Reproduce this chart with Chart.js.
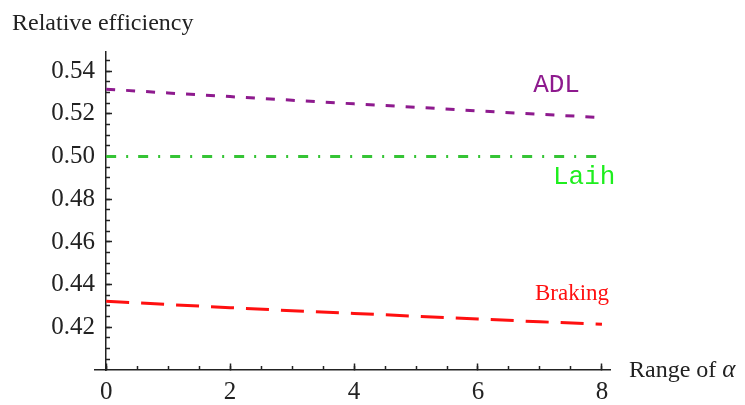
<!DOCTYPE html>
<html>
<head>
<meta charset="utf-8">
<script src="https://cdn.jsdelivr.net/npm/chart.js@4.4.1/dist/chart.umd.min.js"></script>
<style>
  html, body { margin: 0; padding: 0; background: #fff; }
  #wrap { width: 745px; height: 405px; position: relative; }
</style>
</head>
<body>
<div id="wrap"><canvas id="chart"></canvas></div>
<script>
// values
const alphaValues = [0, 1, 2, 3, 4, 5, 6, 7, 8];
const adlValues = [0.5316, 0.5298, 0.5281, 0.5264, 0.5247, 0.5231, 0.5214, 0.5198, 0.5183];
const laihValues = [0.500, 0.500, 0.500, 0.500, 0.500, 0.500, 0.500, 0.500, 0.500];
const brakingValues = [0.4322, 0.4307, 0.4292, 0.4278, 0.4265, 0.4252, 0.4239, 0.4226, 0.4214];

// tick labels
const xTickValues = [0, 2, 4, 6, 8];
const yTickValues = [0.42, 0.44, 0.46, 0.48, 0.50, 0.52, 0.54];

const serif = "'Liberation Serif', 'Times New Roman', serif";
const mono = "'Liberation Mono', 'Courier New', monospace";
const ink = '#222';

function points(values) {
  return alphaValues.map((a, i) => ({ x: a, y: values[i] }));
}

// minor tick positions
function minorTicks(from, to, step) {
  const out = [];
  const n = Math.round((to - from) / step);
  for (let i = 0; i <= n; i++) out.push({ value: +(from + i * step).toFixed(4) });
  return out;
}

const datasets = [
  { label: 'ADL', data: points(adlValues), borderColor: '#8e1a8e', borderDash: [9, 11],
    textColor: '#8e1a8e', textFont: '26px ' + mono, textAt: [6.89, 0.5302] },
  { label: 'Laih', data: points(laihValues), borderColor: '#35c435', borderDash: [10, 10, 2, 10],
    textColor: '#1eee1e', textFont: '26px ' + mono, textAt: [7.21, 0.4870] },
  { label: 'Braking', data: points(brakingValues), borderColor: '#ff1010', borderDash: [23, 12],
    textColor: '#ff1010', textFont: '23px ' + serif, textAt: [6.92, 0.4326] }
];

const textPlugin = {
  id: 'texts',
  afterDraw(chart) {
    const { ctx, scales } = chart;
    ctx.save();
    ctx.textBaseline = 'alphabetic';
    ctx.textAlign = 'left';
    chart.data.datasets.forEach(ds => {
      ctx.fillStyle = ds.textColor;
      ctx.font = ds.textFont;
      ctx.fillText(ds.label, scales.x.getPixelForValue(ds.textAt[0]), scales.y.getPixelForValue(ds.textAt[1]));
    });
    ctx.fillStyle = ink;
    ctx.font = '24px ' + serif;
    ctx.fillText('Relative efficiency', 12, 30);
    const lead = 'Range of ';
    ctx.fillText(lead, 629, 377);
    const w = ctx.measureText(lead).width;
    ctx.font = 'italic 25px ' + serif;
    ctx.fillText('α', 629 + w, 377);
    ctx.restore();
  }
};

const axisGrid = len => ({
  display: true, drawOnChartArea: false, drawTicks: true,
  tickLength: len, tickWidth: 1.5, tickColor: ink
});

new Chart(document.getElementById('chart'), {
  type: 'line',
  data: {
    datasets: datasets.map(ds => ({
      ...ds,
      borderWidth: 3,
      borderCapStyle: 'butt',
      pointRadius: 0,
      fill: false,
      tension: 0
    }))
  },
  options: {
    responsive: true,
    maintainAspectRatio: false,
    animation: false,
    events: [],
    layout: { padding: { left: 45, right: 135, top: 52, bottom: 35 } },
    plugins: { legend: { display: false }, tooltip: { enabled: false } },
    scales: {
      x: {
        type: 'linear', min: -0.18, max: 8.13, position: { y: 0.40 },
        grid: axisGrid(-7),
        border: { display: true, color: ink, width: 1.5 },
        afterBuildTicks: s => { s.ticks = xTickValues.map(v => ({ value: v })); },
        ticks: { color: ink, font: { family: serif, size: 25 }, padding: 14,
                 maxRotation: 0, autoSkip: false, callback: v => String(v) }
      },
      xMinor: {
        type: 'linear', axis: 'x', min: -0.18, max: 8.13, position: { y: 0.40 },
        grid: axisGrid(-4),
        border: { display: false },
        afterBuildTicks: s => { s.ticks = minorTicks(0, 8, 0.5); },
        ticks: { autoSkip: false, maxRotation: 0, callback: () => '' }
      },
      y: {
        type: 'linear', min: 0.40, max: 0.549, position: { x: 0 },
        grid: axisGrid(-7),
        border: { display: true, color: ink, width: 1.5 },
        afterBuildTicks: s => { s.ticks = yTickValues.map(v => ({ value: v })); },
        ticks: { autoSkip: false, callback: () => '' }
      },
      yMinor: {
        type: 'linear', axis: 'y', min: 0.40, max: 0.549, position: { x: 0 },
        grid: axisGrid(-4),
        border: { display: false },
        afterBuildTicks: s => { s.ticks = minorTicks(0.405, 0.545, 0.005); },
        ticks: { autoSkip: false, callback: () => '' }
      },
      // labels of the y axis, right-aligned just left of alpha = 0
      yLabels: {
        type: 'linear', axis: 'y', min: 0.40, max: 0.549, position: 'left',
        grid: { display: false, drawTicks: false },
        border: { display: false },
        afterFit: s => { s.width = 50; },
        afterBuildTicks: s => { s.ticks = yTickValues.map(v => ({ value: v })); },
        ticks: { color: ink, font: { family: serif, size: 25 }, padding: 0,
                 autoSkip: false, callback: v => v.toFixed(2) }
      }
    }
  },
  plugins: [textPlugin]
});
</script>
</body>
</html>
